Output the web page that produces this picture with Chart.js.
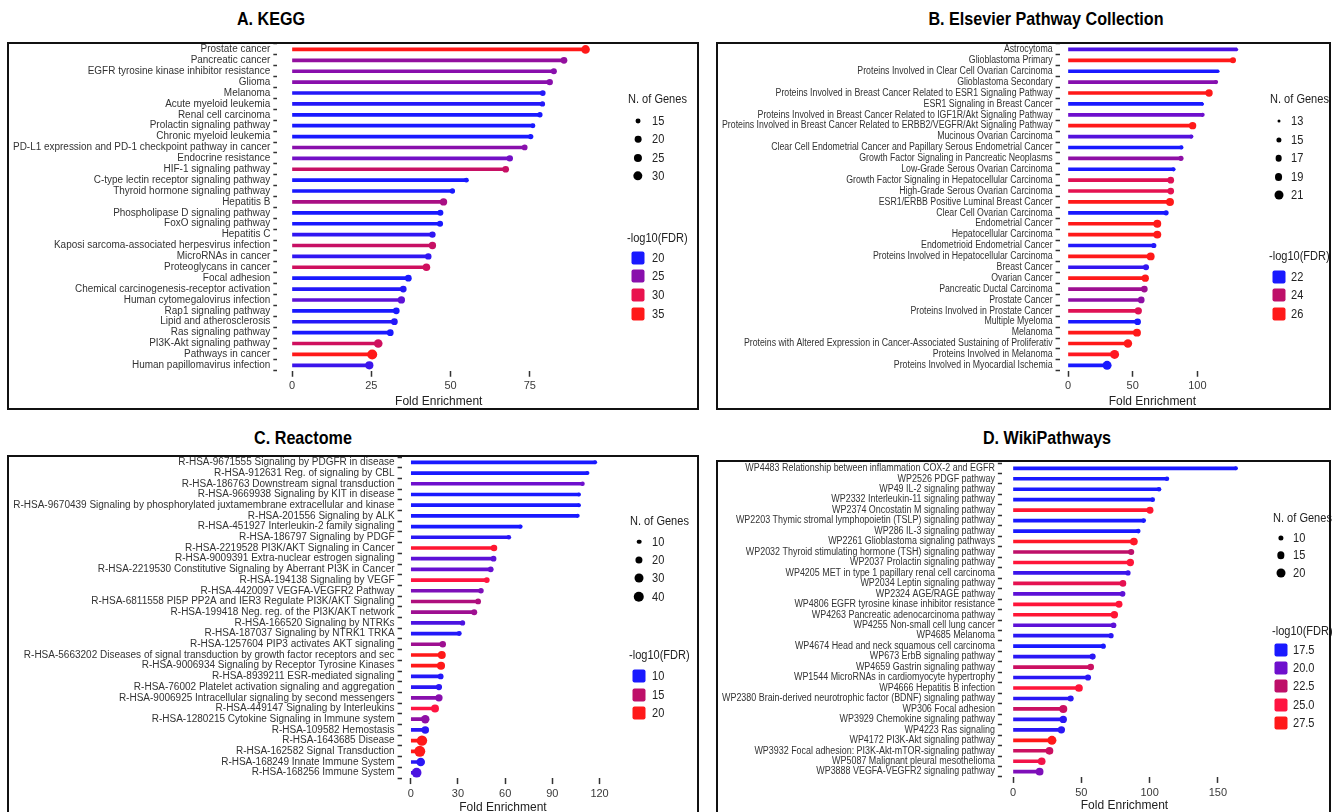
<!DOCTYPE html>
<html>
<head>
<meta charset="utf-8">
<script src="https://cdn.jsdelivr.net/npm/chart.js@4.4.1/dist/chart.umd.min.js"></script>
<style>
  body { margin: 0; background: #fff; width: 1336px; height: 812px; overflow: hidden; position: relative;
         font-family: "Liberation Sans", Arial, sans-serif; color: #222; }
  .box { position: absolute; border: 2px solid #111; box-sizing: border-box; pointer-events: none; z-index: 2; }
  .title { position: absolute; font-weight: bold; font-size: 19px; transform: translate(-50%, -50%) scaleX(0.85); white-space: nowrap; color: #000; }
  .lg { position: absolute; font-size: 12px; white-space: nowrap; transform: translateY(-50%) scaleX(0.92); transform-origin: left center; line-height: 14px; }
  .dot { position: absolute; border-radius: 50%; background: #000; transform: translate(-50%, -50%); }
  .sw { position: absolute; width: 13px; height: 13px; border-radius: 2px; transform: translate(-50%, -50%); }
  canvas { position: absolute; }
</style>
</head>
<body>
<script>
// ---- A. KEGG ----
const keggLabels = [
  'Prostate cancer', 'Pancreatic cancer', 'EGFR tyrosine kinase inhibitor resistance', 'Glioma', 'Melanoma',
  'Acute myeloid leukemia', 'Renal cell carcinoma', 'Prolactin signaling pathway', 'Chronic myeloid leukemia',
  'PD-L1 expression and PD-1 checkpoint pathway in cancer', 'Endocrine resistance', 'HIF-1 signaling pathway',
  'C-type lectin receptor signaling pathway', 'Thyroid hormone signaling pathway', 'Hepatitis B',
  'Phospholipase D signaling pathway', 'FoxO signaling pathway', 'Hepatitis C',
  'Kaposi sarcoma-associated herpesvirus infection', 'MicroRNAs in cancer', 'Proteoglycans in cancer',
  'Focal adhesion', 'Chemical carcinogenesis-receptor activation', 'Human cytomegalovirus infection',
  'Rap1 signaling pathway', 'Lipid and atherosclerosis', 'Ras signaling pathway', 'PI3K-Akt signaling pathway',
  'Pathways in cancer', 'Human papillomavirus infection'
];
const keggFold = [92.6, 85.8, 82.6, 81.3, 79.1, 79.0, 78.2, 76.0, 75.3, 73.4, 68.7, 67.4, 55.0, 50.6, 47.8,
  46.8, 46.7, 44.3, 44.3, 43.0, 42.4, 36.7, 35.1, 34.5, 32.9, 32.3, 31.0, 27.2, 25.3, 24.4];
const keggGenes = [27, 20, 18, 19, 17, 16, 16, 15, 16, 17, 19, 20, 15, 16, 22, 18, 18, 19, 22, 19, 23, 20, 20,
  22, 20, 20, 20, 27, 33, 25];
const keggFdr = [35, 25.5, 25, 25, 20.5, 20.5, 20, 19.5, 20, 25, 24, 28, 19, 19.5, 26.5, 20, 20, 21, 28, 21,
  28.5, 20, 20.5, 23, 20, 20.5, 20, 28.5, 36, 21.5];
const keggXTicks = [0, 25, 50, 75];
const keggGeneTicks = [15, 20, 25, 30];
const keggFdrTicks = [20, 25, 30, 35];

// ---- B. Elsevier Pathway Collection ----
const elsLabels = [
  'Astrocytoma', 'Glioblastoma Primary', 'Proteins Involved in Clear Cell Ovarian Carcinoma', 'Glioblastoma Secondary',
  'Proteins Involved in Breast Cancer Related to ESR1 Signaling Pathway', 'ESR1 Signaling in Breast Cancer',
  'Proteins Involved in Breast Cancer Related to IGF1R/Akt Signaling Pathway',
  'Proteins Involved in Breast Cancer Related to ERBB2/VEGFR/Akt Signaling Pathway', 'Mucinous Ovarian Carcinoma',
  'Clear Cell Endometrial Cancer and Papillary Serous Endometrial Cancer', 'Growth Factor Signaling in Pancreatic Neoplasms',
  'Low-Grade Serous Ovarian Carcinoma', 'Growth Factor Signaling in Hepatocellular Carcinoma',
  'High-Grade Serous Ovarian Carcinoma', 'ESR1/ERBB Positive Luminal Breast Cancer', 'Clear Cell Ovarian Carcinoma',
  'Endometrial Cancer', 'Hepatocellular Carcinoma', 'Endometrioid Endometrial Cancer',
  'Proteins Involved in Hepatocellular Carcinoma', 'Breast Cancer', 'Ovarian Cancer', 'Pancreatic Ductal Carcinoma',
  'Prostate Cancer', 'Proteins Involved in Prostate Cancer', 'Multiple Myeloma', 'Melanoma',
  'Proteins with Altered Expression in Cancer-Associated Sustaining of Proliferativ', 'Proteins Involved in Melanoma',
  'Proteins Involved in Myocardial Ischemia'
];
const elsFold = [130.4, 127.5, 116.0, 114.4, 109.0, 104.0, 104.0, 96.3, 95.3, 87.6, 87.3, 81.5, 79.4, 79.4, 78.8,
  75.8, 69.0, 69.0, 66.3, 63.9, 60.3, 59.7, 59.0, 56.6, 54.3, 53.8, 53.3, 46.3, 36.0, 30.2];
const elsGenes = [13, 16, 13, 14, 18, 13, 14, 18, 14, 14, 15, 14, 17, 17, 19, 15, 19, 19, 15, 19, 16, 18, 17, 17,
  18, 17, 19, 20, 21, 21];
const elsFdr = [22.6, 26.2, 21.8, 23.3, 26.5, 21.9, 23.0, 26.2, 22.7, 22.0, 23.4, 22.0, 24.5, 24.6, 26.3, 22.0,
  26.3, 26.5, 22.1, 26.0, 22.3, 26.0, 23.6, 23.4, 24.5, 22.0, 26.0, 26.2, 25.8, 22.0];
const elsXTicks = [0, 50, 100];
const elsGeneTicks = [13, 15, 17, 19, 21];
const elsFdrTicks = [22, 24, 26];

// ---- C. Reactome ----
const reacLabels = [
  'R-HSA-9671555 Signaling by PDGFR in disease', 'R-HSA-912631 Reg. of signaling by CBL',
  'R-HSA-186763 Downstream signal transduction', 'R-HSA-9669938 Signaling by KIT in disease',
  'R-HSA-9670439 Signaling by phosphorylated juxtamembrane extracellular and kinase', 'R-HSA-201556 Signaling by ALK',
  'R-HSA-451927 Interleukin-2 family signaling', 'R-HSA-186797 Signaling by PDGF',
  'R-HSA-2219528 PI3K/AKT Signaling in Cancer', 'R-HSA-9009391 Extra-nuclear estrogen signaling',
  'R-HSA-2219530 Constitutive Signaling by Aberrant PI3K in Cancer', 'R-HSA-194138 Signaling by VEGF',
  'R-HSA-4420097 VEGFA-VEGFR2 Pathway', 'R-HSA-6811558 PI5P PP2A and IER3 Regulate PI3K/AKT Signaling',
  'R-HSA-199418 Neg. reg. of the PI3K/AKT network', 'R-HSA-166520 Signaling by NTRKs',
  'R-HSA-187037 Signaling by NTRK1 TRKA', 'R-HSA-1257604 PIP3 activates AKT signaling',
  'R-HSA-5663202 Diseases of signal transduction by growth factor receptors and sec',
  'R-HSA-9006934 Signaling by Receptor Tyrosine Kinases', 'R-HSA-8939211 ESR-mediated signaling',
  'R-HSA-76002 Platelet activation signaling and aggregation', 'R-HSA-9006925 Intracellular signaling by second messengers',
  'R-HSA-449147 Signaling by Interleukins', 'R-HSA-1280215 Cytokine Signaling in Immune system',
  'R-HSA-109582 Hemostasis', 'R-HSA-1643685 Disease', 'R-HSA-162582 Signal Transduction',
  'R-HSA-168249 Innate Immune System', 'R-HSA-168256 Immune System'
];
const reacFold = [117.2, 112.3, 109.2, 106.9, 106.9, 106.1, 69.7, 62.3, 52.9, 52.6, 50.8, 48.3, 44.6, 42.8, 40.3,
  32.9, 30.8, 20.3, 19.7, 19.2, 19.0, 17.9, 17.9, 15.4, 9.2, 9.2, 7.1, 5.7, 6.3, 3.7];
const reacGenes = [8, 8, 9, 8, 8, 8, 9, 10, 17, 14, 14, 14, 13, 14, 15, 12, 11, 17, 24, 25, 14, 16, 21, 24, 27,
  22, 40, 44, 28, 35];
const reacFdr = [9.5, 9.5, 12.5, 9.8, 10, 10, 10, 10.5, 18.5, 12, 12.3, 17.5, 13, 14.5, 14, 11.5, 10.3, 14, 20.5,
  20.5, 10.3, 10.5, 13.3, 17.5, 13.5, 10.5, 21.5, 21.5, 10.5, 11.5];
const reacXTicks = [0, 30, 60, 90, 120];
const reacGeneTicks = [10, 20, 30, 40];
const reacFdrTicks = [10, 15, 20];

// ---- D. WikiPathways ----
const wikiLabels = [
  'WP4483 Relationship between inflammation COX-2 and EGFR', 'WP2526 PDGF pathway', 'WP49 IL-2 signaling pathway',
  'WP2332 Interleukin-11 signaling pathway', 'WP2374 Oncostatin M signaling pathway',
  'WP2203 Thymic stromal lymphopoietin (TSLP) signaling pathway', 'WP286 IL-3 signaling pathway',
  'WP2261 Glioblastoma signaling pathways', 'WP2032 Thyroid stimulating hormone (TSH) signaling pathway',
  'WP2037 Prolactin signaling pathway', 'WP4205 MET in type 1 papillary renal cell carcinoma',
  'WP2034 Leptin signaling pathway', 'WP2324 AGE/RAGE pathway', 'WP4806 EGFR tyrosine kinase inhibitor resistance',
  'WP4263 Pancreatic adenocarcinoma pathway', 'WP4255 Non-small cell lung cancer', 'WP4685 Melanoma',
  'WP4674 Head and neck squamous cell carcinoma', 'WP673 ErbB signaling pathway', 'WP4659 Gastrin signaling pathway',
  'WP1544 MicroRNAs in cardiomyocyte hypertrophy', 'WP4666 Hepatitis B infection',
  'WP2380 Brain-derived neurotrophic factor (BDNF) signaling pathway', 'WP306 Focal adhesion',
  'WP3929 Chemokine signaling pathway', 'WP4223 Ras signaling', 'WP4172 PI3K-Akt signaling pathway',
  'WP3932 Focal adhesion: PI3K-Akt-mTOR-signaling pathway', 'WP5087 Malignant pleural mesothelioma',
  'WP3888 VEGFA-VEGFR2 signaling pathway'
];
const wikiFold = [163.2, 112.7, 106.9, 102.3, 100.3, 95.7, 91.7, 88.5, 86.5, 85.9, 84.2, 80.5, 80.2, 77.6, 74.2,
  73.6, 71.8, 66.1, 58.3, 56.9, 54.9, 48.3, 42.2, 36.8, 36.8, 35.4, 28.5, 26.7, 21.0, 19.5];
const wikiGenes = [8, 9, 9, 9, 14, 9, 9, 16, 12, 15, 10, 13, 11, 14, 15, 11, 10, 10, 12, 13, 12, 16, 12, 17, 15,
  15, 20, 16, 16, 16];
const wikiFdr = [17.2, 17.5, 17.5, 17.5, 26, 17.5, 17.5, 26.5, 22.5, 25.5, 18.5, 24, 19.5, 25.5, 25.8, 19.5, 18,
  17.5, 18, 23, 18, 25.5, 18, 23, 18, 18, 27.5, 23, 24.5, 20.5];
const wikiXTicks = [0, 50, 100, 150];
const wikiGeneTicks = [10, 15, 20];
const wikiFdrTicks = ['17.5', '20.0', '22.5', '25.0', '27.5'];

// colour ramp used for -log10(FDR)
const gradStops = [[0, [25, 25, 255]], [0.25, [110, 15, 205]], [0.5, [190, 15, 105]], [0.75, [255, 20, 65]], [1, [255, 25, 25]]];

function colorFor(v, dom) {
  let t = (v - dom[0]) / (dom[1] - dom[0]);
  t = Math.max(0, Math.min(1, t));
  for (let i = 1; i < gradStops.length; i++) {
    if (t <= gradStops[i][0]) {
      const [t0, c0] = gradStops[i - 1], [t1, c1] = gradStops[i];
      const f = (t - t0) / (t1 - t0);
      const c = c0.map((x, k) => Math.round(x + (c1[k] - x) * f));
      return `rgb(${c[0]},${c[1]},${c[2]})`;
    }
  }
  return 'rgb(255,25,25)';
}

function sizeFor(n, p) {
  let t = (n - p.geneDom[0]) / (p.geneDom[1] - p.geneDom[0]);
  t = Math.max(0, Math.min(1, t));
  return Math.sqrt(p.rRange[0] ** 2 + t * (p.rRange[1] ** 2 - p.rRange[0] ** 2));
}

const panels = [
  { title: 'A. KEGG', tx: 271, ty: 19, box: [7, 42, 692, 368], x0: 292, ppu: 3.17, firstRow: 49, lastRow: 365.3, axisTitleY: 402,
    labels: keggLabels, fold: keggFold, genes: keggGenes, fdr: keggFdr, xTicks: keggXTicks, geneTicks: keggGeneTicks,
    fdrTicks: keggFdrTicks, geneDom: [13, 33], rRange: [2, 5], fdrDom: [20, 35],
    lg: { tx: 628, dx: 638, lx: 652, sizeTitle: 99, sizeY: 120.7, sizeStep: 18.4, fdrTitle: 238, fdrY: 257.7, fdrStep: 18.6 } },
  { title: 'B. Elsevier Pathway Collection', tx: 1046, ty: 19, box: [716, 42, 615, 368], x0: 1068, ppu: 1.294, firstRow: 49, lastRow: 365.3, axisTitleY: 402,
    labels: elsLabels, fold: elsFold, genes: elsGenes, fdr: elsFdr, xTicks: elsXTicks, geneTicks: elsGeneTicks,
    fdrTicks: elsFdrTicks, geneDom: [13, 21], rRange: [1.5, 4.5], fdrDom: [22, 26],
    lg: { tx: 1270, dx: 1278.5, lx: 1291, sizeTitle: 99, sizeY: 121, sizeStep: 18.6, fdrTitle: 256, fdrY: 276.5, fdrStep: 18.7 } },
  { title: 'C. Reactome', tx: 303, ty: 438, box: [7, 455, 692, 360], x0: 410.8, ppu: 1.573, firstRow: 461.7, lastRow: 772.7, axisTitleY: 808,
    labels: reacLabels, fold: reacFold, genes: reacGenes, fdr: reacFdr, xTicks: reacXTicks, geneTicks: reacGeneTicks,
    fdrTicks: reacFdrTicks, geneDom: [8, 44], rRange: [2, 5.5], fdrDom: [10, 20],
    lg: { tx: 630, dx: 639, lx: 652, sizeTitle: 521, sizeY: 541.5, sizeStep: 18.4, fdrTitle: 655, fdrY: 676, fdrStep: 18.5 } },
  { title: 'D. WikiPathways', tx: 1047, ty: 438, box: [716, 460, 615, 355], x0: 1013, ppu: 1.366, firstRow: 468.3, lastRow: 771.7, axisTitleY: 806,
    labels: wikiLabels, fold: wikiFold, genes: wikiGenes, fdr: wikiFdr, xTicks: wikiXTicks, geneTicks: wikiGeneTicks,
    fdrTicks: wikiFdrTicks, geneDom: [8, 20], rRange: [2, 4.5], fdrDom: [17.5, 27.5],
    lg: { tx: 1273, dx: 1281, lx: 1293, sizeTitle: 518, sizeY: 537.5, sizeStep: 17.7, fdrTitle: 631, fdrY: 650, fdrStep: 18.2 } }
];

const labelFont = '10px "Liberation Sans", Arial, sans-serif';
Chart.defaults.font.family = '"Liberation Sans", Arial, sans-serif';

// y labels are drawn condensed when needed so the longest one fits the panel
const narrowLabels = {
  id: 'narrowLabels',
  afterDraw(chart) {
    const ctx = chart.ctx, ys = chart.scales.y;
    const right = chart.chartArea.left - 7;
    ctx.save();
    ctx.font = labelFont;
    const widest = Math.max(...chart.data.labels.map(l => ctx.measureText(l).width));
    const k = Math.min(1, (right - 4) / widest);
    ctx.fillStyle = '#333';
    ctx.textAlign = 'right';
    ctx.textBaseline = 'middle';
    chart.data.labels.forEach((lab, i) => {
      ctx.save();
      ctx.translate(right, ys.getPixelForValue(i));
      ctx.scale(k, 1);
      ctx.fillText(lab, 0, 0);
      ctx.restore();
    });
    ctx.restore();
  }
};

function addDiv(cls, x, y, text, extra) {
  const d = document.createElement('div');
  d.className = cls;
  d.style.left = x + 'px';
  d.style.top = y + 'px';
  if (text !== undefined) d.textContent = text;
  if (extra) Object.assign(d.style, extra);
  document.body.appendChild(d);
  return d;
}

function makePanel(p) {
  const [bx, by, bw, bh] = p.box;
  addDiv('box', bx, by, undefined, { width: bw + 'px', height: bh + 'px' });
  addDiv('title', p.tx, p.ty, p.title);

  const cLeft = bx + 2, cTop = by + 2, cW = bw - 4;
  const band = (p.lastRow - p.firstRow) / (p.labels.length - 1);
  const plotTop = p.firstRow - band / 2, plotBottom = p.lastRow + band / 2;
  const maxV = Math.max(...p.fold);
  const xMin = -0.05 * maxV, xMax = 1.05 * maxV;
  const plotLeft = p.x0 + xMin * p.ppu, plotRight = p.x0 + xMax * p.ppu;
  const axisH = p.axisTitleY + 7 - plotBottom;
  const cH = Math.ceil(plotBottom - cTop + axisH);

  const canvas = document.createElement('canvas');
  canvas.width = cW; canvas.height = cH;
  canvas.style.left = cLeft + 'px'; canvas.style.top = cTop + 'px';
  document.body.appendChild(canvas);

  const colors = p.fdr.map(v => colorFor(v, p.fdrDom));
  const radii = p.genes.map(n => sizeFor(n, p));

  new Chart(canvas, {
    type: 'bar',
    data: {
      labels: p.labels,
      datasets: [
        { type: 'line', indexAxis: 'y', data: p.fold, showLine: false, pointRadius: radii, pointHoverRadius: radii,
          pointBackgroundColor: colors, pointBorderWidth: 0, order: 0, clip: false },
        { type: 'bar', data: p.fold, backgroundColor: colors, barThickness: 3, order: 1 }
      ]
    },
    options: {
      indexAxis: 'y',
      responsive: false,
      animation: false,
      events: [],
      layout: { autoPadding: false, padding: { top: plotTop - cTop, right: cLeft + cW - plotRight, left: 0, bottom: 0 } },
      plugins: { legend: { display: false }, tooltip: { enabled: false } },
      scales: {
        x: {
          type: 'linear', min: xMin, max: xMax,
          afterBuildTicks: s => { s.ticks = p.xTicks.map(v => ({ value: v })); },
          afterFit: s => { s.height = axisH; },
          grid: { drawOnChartArea: false, drawTicks: true, tickLength: 6, tickColor: '#333', tickWidth: 1.5 },
          border: { display: false },
          ticks: { color: '#3a3a3a', font: { size: 11 }, padding: 3, maxRotation: 0 },
          title: { display: true, text: 'Fold Enrichment', color: '#222', font: { size: 12 }, padding: 0 }
        },
        y: {
          afterFit: s => { s.width = plotLeft - cLeft; },
          grid: { drawOnChartArea: false, drawTicks: true, tickLength: 4, tickColor: '#333', tickWidth: 1.5 },
          border: { display: false },
          ticks: { display: false, autoSkip: false }
        }
      }
    },
    plugins: [narrowLabels]
  });

  // legends
  const L = p.lg;
  addDiv('lg', L.tx, L.sizeTitle, 'N. of Genes');
  p.geneTicks.forEach((g, i) => {
    const y = L.sizeY + i * L.sizeStep;
    const r = sizeFor(g, p);
    addDiv('dot', L.dx, y, undefined, { width: 2 * r + 'px', height: 2 * r + 'px' });
    addDiv('lg', L.lx, y, String(g));
  });
  addDiv('lg', L.tx - 1, L.fdrTitle, '-log10(FDR)');
  p.fdrTicks.forEach((f, i) => {
    const y = L.fdrY + i * L.fdrStep;
    addDiv('sw', L.dx, y, undefined, { background: colorFor(parseFloat(f), p.fdrDom) });
    addDiv('lg', L.lx, y, String(f));
  });
}

panels.forEach(makePanel);
</script>
</body>
</html>
